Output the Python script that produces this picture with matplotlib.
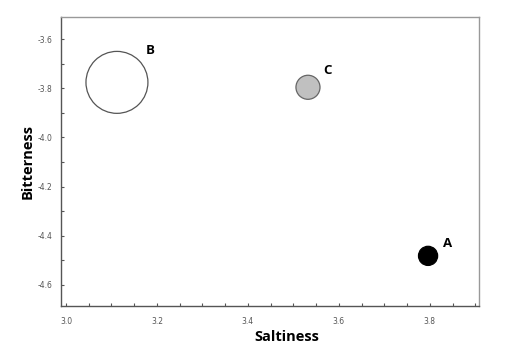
import matplotlib
matplotlib.use("Agg")
import matplotlib.pyplot as plt
from matplotlib.ticker import MultipleLocator

# samples and their position on the taste map
samples = ["A", "B", "C"]
saltiness = [3.796, 3.112, 3.532]
bitterness = [-4.482, -3.776, -3.796]
bubble_size = [190, 1990, 300]
face = ["black", "white", "#c0c0c0"]
edge = ["black", "#555555", "#666666"]

fig = plt.figure(figsize=(5.17, 3.52), dpi=100)
ax = fig.add_axes([61 / 517, 1 - 306 / 352, (479 - 61) / 517, (306 - 17) / 352])

ax.scatter(saltiness, bitterness, s=bubble_size, c=face, edgecolors=edge, linewidths=0.9, zorder=3)

# labels sit up and to the right of each bubble
offsets = {"A": (11, 9), "B": (21, 23), "C": (11, 12)}
for name, x, y in zip(samples, saltiness, bitterness):
    ax.annotate(name, (x, y), xytext=offsets[name], textcoords="offset points",
                fontsize=9.5, fontweight="bold", family="Open Sans", va="center", ha="left")

ax.set_xlim(2.989, 3.908)
ax.set_ylim(-4.686, -3.51)
ax.xaxis.set_major_locator(MultipleLocator(0.2))
ax.xaxis.set_minor_locator(MultipleLocator(0.05))
ax.yaxis.set_major_locator(MultipleLocator(0.2))
ax.yaxis.set_minor_locator(MultipleLocator(0.1))
ax.xaxis.set_major_formatter(plt.FuncFormatter(lambda v, p: f"{v:.1f}"))
ax.yaxis.set_major_formatter(plt.FuncFormatter(lambda v, p: f"{v:.1f}"))

ax.tick_params(which="both", direction="in", length=2, width=0.8, color="#555555",
               labelsize=5.5, labelcolor="#555555", top=False, right=False)
ax.tick_params(axis="x", pad=8)
ax.tick_params(axis="y", pad=6)

for side in ["left", "bottom"]:
    ax.spines[side].set_color("#555555")
    ax.spines[side].set_linewidth(1.0)
for side in ["top", "right"]:
    ax.spines[side].set_color("#999999")
    ax.spines[side].set_linewidth(1.0)

ax.set_xlabel("Saltiness", fontsize=10.5, fontweight="bold", family="Open Sans", va="center")
ax.set_ylabel("Bitterness", fontsize=10.5, fontweight="bold", family="Open Sans", va="center")
ax.xaxis.set_label_coords(0.54, -0.107)
ax.yaxis.set_label_coords(-0.081, 0.5)

fig.savefig("out.png", dpi=100)
